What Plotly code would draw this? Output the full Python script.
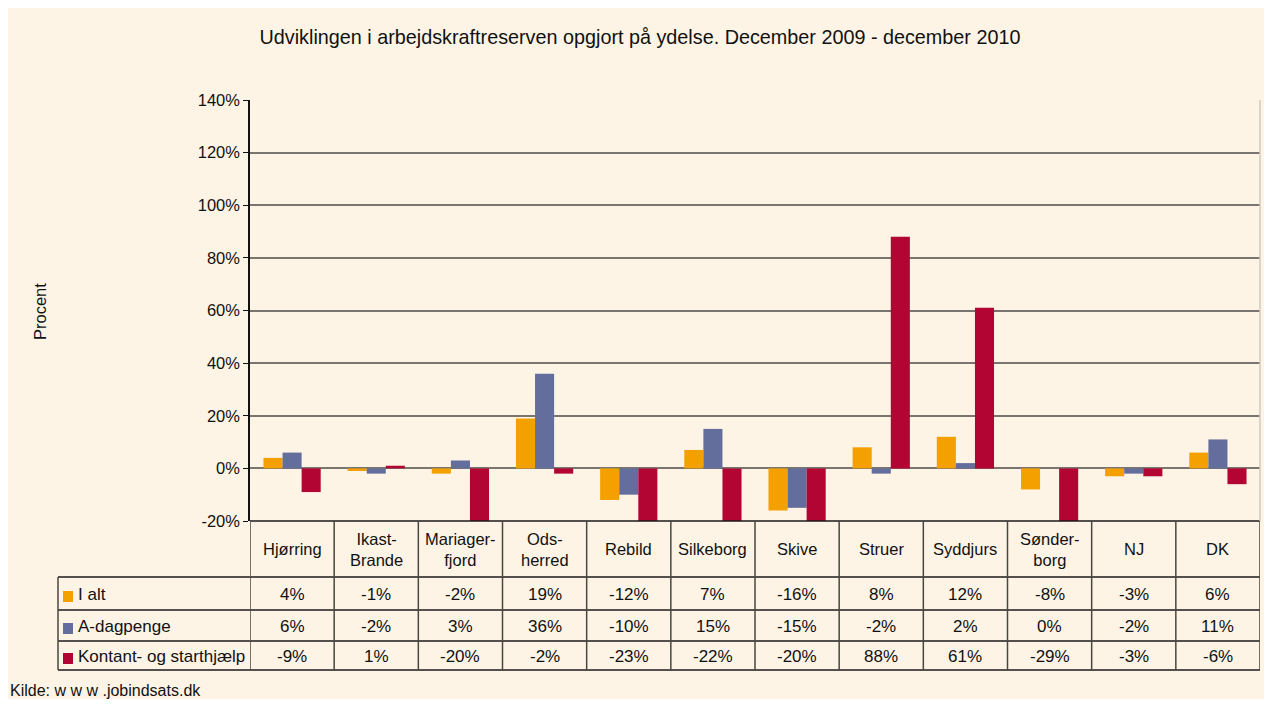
import plotly.graph_objects as go

# data
categories = ["Hjørring", "Ikast-<br>Brande", "Mariager-<br>fjord", "Ods-<br>herred", "Rebild", "Silkeborg",
              "Skive", "Struer", "Syddjurs", "Sønder-<br>borg", "NJ", "DK"]
series_names = ["I alt", "A-dagpenge", "Kontant- og starthjælp"]
i_alt = [4, -1, -2, 19, -12, 7, -16, 8, 12, -8, -3, 6]
a_dagpenge = [6, -2, 3, 36, -10, 15, -15, -2, 2, 0, -2, 11]
kontant = [-9, 1, -20, -2, -23, -22, -20, 88, 61, -29, -3, -6]
y_ticks = [-20, 0, 20, 40, 60, 80, 100, 120, 140]

colors = ["#F4A000", "#646E9C", "#B30533"]
cream = "#FDF4E6"
font = "Liberation Sans, Arial, sans-serif"
txt = "#111111"

# page body has an 8px margin; figure covers the cream area only
OFF = 8
W, H = 1266 - OFF, 699 - OFF
# plot area in screen pixels
L, R, T, B = 250, 1260, 100, 521


def px(x):
    return (x - L) / (R - L)


def py(y):
    return (B - y) / (B - T)


fig = go.Figure()
xs = list(range(len(categories)))
for name, vals, col in zip(series_names, [i_alt, a_dagpenge, kontant], colors):
    fig.add_trace(go.Bar(x=xs, y=vals, name=name, marker_color=col, marker_line_width=0))

shapes = []
annotations = []

# table lines
row_lines = [521, 577, 610, 641, 670]
for i, yy in enumerate(row_lines):
    x0 = L if i == 0 else 58
    shapes.append(dict(type="line", xref="paper", yref="paper", x0=px(x0), x1=px(R), y0=py(yy), y1=py(yy),
                       line=dict(color="#1A1A1A", width=1.5)))
for k in range(len(categories) + 1):
    shapes.append(dict(type="line", xref="x", yref="paper", x0=k - 0.5, x1=k - 0.5, y0=py(521), y1=py(670),
                       line=dict(color="#4A463F", width=1.5)))
shapes.append(dict(type="line", xref="paper", yref="paper", x0=px(58), x1=px(58), y0=py(577), y1=py(670),
                   line=dict(color="#4A463F", width=1.5)))
# right border of plot area
shapes.append(dict(type="line", xref="paper", yref="paper", x0=1, x1=1, y0=0, y1=1,
                   line=dict(color="#CFCAC0", width=1.5)))

# category labels
for k, c in enumerate(categories):
    annotations.append(dict(x=k, y=py(549), xref="x", yref="paper", text=c, showarrow=False,
                            xanchor="center", yanchor="middle",
                            font=dict(size=16.5, color=txt, family=font)))

# table rows
row_centers = [594, 626, 656]
for name, vals, col, yc in zip(series_names, [i_alt, a_dagpenge, kontant], colors, row_centers):
    shapes.append(dict(type="rect", xref="paper", yref="paper", x0=px(63), x1=px(73), y0=py(yc + 8), y1=py(yc - 3),
                       fillcolor=col, line_width=0))
    annotations.append(dict(x=px(76), y=py(yc), xref="paper", yref="paper", text=name, showarrow=False,
                            xanchor="left", yanchor="middle", font=dict(size=17, color=txt, family=font)))
    for k, v in enumerate(vals):
        annotations.append(dict(x=k, y=py(yc), xref="x", yref="paper", text=f"{v}%", showarrow=False,
                                xanchor="center", yanchor="middle",
                                font=dict(size=17, color=txt, family=font)))

annotations.append(dict(x=px(8), y=py(690), xref="paper", yref="paper", text="Kilde: w w w .jobindsats.dk",
                        showarrow=False, xanchor="left", yanchor="middle",
                        font=dict(size=16, color=txt, family=font)))
annotations.append(dict(x=px(40), y=py(312), xref="paper", yref="paper", text="Procent", textangle=-90,
                        showarrow=False, xanchor="center", yanchor="middle",
                        font=dict(size=16.5, color=txt, family=font)))

fig.update_layout(
    width=W, height=H,
    margin=dict(l=L - OFF, r=W - (R - OFF), t=T - OFF, b=H - (B - OFF), pad=0),
    paper_bgcolor=cream, plot_bgcolor=cream,
    title=dict(text="Udviklingen i arbejdskraftreserven opgjort på ydelse. December 2009 - december 2010",
               x=(640 - OFF) / W, xref="container", xanchor="center",
               y=1 - (37 - OFF) / H, yref="container", yanchor="middle",
               font=dict(size=19.8, color=txt, family=font)),
    barmode="group", bargap=0.32, bargroupgap=0,
    showlegend=False,
    shapes=shapes, annotations=annotations,
    font=dict(family=font, color=txt),
)
fig.update_xaxes(range=[-0.5, len(categories) - 0.5], showticklabels=False, showgrid=False,
                 zeroline=False, showline=False, ticks="")
fig.update_yaxes(range=[-20, 140], tickvals=y_ticks, ticktext=[f"{t}%" for t in y_ticks],
                 showgrid=True, gridcolor="#7A756E", gridwidth=1.5,
                 zeroline=True, zerolinecolor="#7A756E", zerolinewidth=1.5,
                 showline=True, linecolor="#111111", linewidth=1.5,
                 ticks="outside", ticklen=5, tickcolor="#111111",
                 tickfont=dict(size=16.5, family=font, color=txt))

fig.write_html("out.html")
